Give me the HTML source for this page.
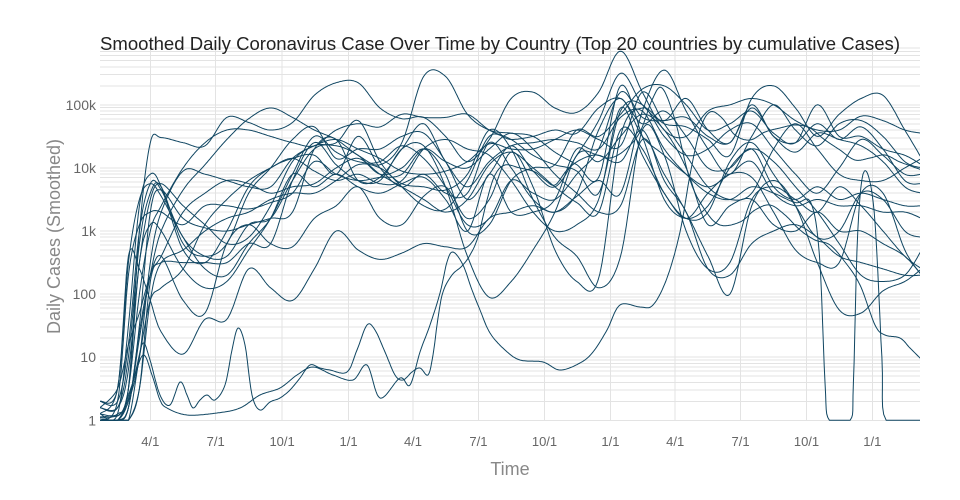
<!DOCTYPE html>
<html><head><meta charset="utf-8">
<style>
html,body{margin:0;padding:0;background:#fff;}
svg{display:block;}
text{font-family:"Liberation Sans",Arial,sans-serif;}
</style></head><body>
<svg id="c" width="960" height="500" viewBox="0 0 960 500" xmlns="http://www.w3.org/2000/svg">
<defs><clipPath id="clip"><rect x="100" y="47" width="820" height="374.5"/></clipPath></defs>
<rect width="960" height="500" fill="#fff"/>
<g id="grid" stroke="#e3e3e3" stroke-width="1" fill="none" shape-rendering="crispEdges"></g>
<g id="lines" clip-path="url(#clip)" fill="none" stroke="#104662" stroke-width="1" stroke-linejoin="round"></g>
<text x="100" y="50" font-size="18" fill="#222" textLength="800" lengthAdjust="spacingAndGlyphs">Smoothed Daily Coronavirus Case Over Time by Country (Top 20 countries by cumulative Cases)</text>
<g font-size="14" fill="#666" text-anchor="end">
<text x="96" y="425.3">1</text>
<text x="96" y="362.2">10</text>
<text x="96" y="299.1">100</text>
<text x="96" y="236">1k</text>
<text x="96" y="172.9">10k</text>
<text x="96" y="109.8">100k</text>
</g>
<g font-size="13" fill="#666" text-anchor="middle">
<text x="150.3" y="446">4/1</text>
<text x="215.7" y="446">7/1</text>
<text x="282.1" y="446">10/1</text>
<text x="348.6" y="446">1/1</text>
<text x="413.0" y="446">4/1</text>
<text x="478.4" y="446">7/1</text>
<text x="544.5" y="446">10/1</text>
<text x="610.4" y="446">1/1</text>
<text x="675.2" y="446">4/1</text>
<text x="740.6" y="446">7/1</text>
<text x="806.5" y="446">10/1</text>
<text x="872.3" y="446">1/1</text>
</g>
<text x="510" y="475" font-size="18" fill="#888" text-anchor="middle">Time</text>
<text transform="translate(60,236.5) rotate(-90)" x="0" y="0" font-size="18" fill="#888" text-anchor="middle">Daily Cases (Smoothed)</text>
</svg>
<script>
(function(){
var NS="http://www.w3.org/2000/svg";
var grid=document.getElementById('grid');
var lines=document.getElementById('lines');
var T=420.3, TOP=47.6;
function X(m){return 150.3+(m-3)*21.87;}
function Y(L){return 420.3-63.1*L;}
var d='';
for(var k=0;k<6;k++){for(var j=1;j<=9;j++){var y=Y(k+Math.log(j)/Math.LN10); if(y<TOP)continue; d+='M100 '+y.toFixed(2)+'H920';}}
var vx=[150.3,215.7,282.1,348.6,413.0,478.4,544.5,610.4,675.2,740.6,806.5,872.3];
for(var i=0;i<vx.length;i++){d+='M'+vx[i]+' '+TOP+'V'+T;}
var gp=document.createElementNS(NS,'path');gp.setAttribute('d',d);grid.appendChild(gp);

var K=[0.7,1.5,2.0,2.5,3.0];for(var m=3.5;m<=37.6;m+=1)K.push(m);K.push(38.27);

var S=[
[0.1,0.1,0.5,3.0,4.4,4.48,4.4,4.35,4.8,4.72,4.6,4.72,5.15,5.35,5.35,4.95,4.78,4.8,4.5,4.1,4.45,5.1,5.2,4.95,4.88,5.2,5.85,5.2,4.6,4.5,4.9,5.0,5.1,5.0,4.75,4.6,4.6,4.82,4.75,4.6,4.55],
[0,0,0.2,1.3,2.3,3.0,3.65,4.05,4.45,4.78,4.95,4.8,4.6,4.45,4.2,4.05,4.4,5.45,5.45,4.85,4.6,4.55,4.5,4.25,4.05,3.85,5.3,4.5,3.5,3.2,3.4,4.0,4.3,4.1,3.7,3.3,2.8,2.3,2.2,2.3,2.7],
[0.2,0.2,1.0,2.8,3.6,3.7,2.8,2.6,2.8,3.6,4.0,4.45,4.65,4.15,4.3,4.3,4.5,4.55,4.1,3.5,3.9,4.35,3.95,3.7,4.2,4.75,5.5,5.0,4.75,5.1,4.6,4.4,5.0,4.5,4.4,4.7,4.45,4.65,4.3,3.8,3.75],
[0.3,0.3,1.2,3.0,3.75,3.65,2.9,2.6,2.6,3.1,3.2,3.8,4.3,4.35,4.2,3.9,4.0,4.3,3.9,3.0,3.1,3.8,4.0,4.05,4.6,4.5,4.85,5.25,5.3,5.0,4.6,4.7,4.9,4.55,4.4,5.0,4.5,4.5,4.3,4.2,4.05],
[0.2,0.2,0.8,2.5,3.5,3.75,3.4,3.1,2.8,2.9,3.4,4.1,4.35,4.4,4.75,4.1,3.7,3.4,3.35,3.8,4.5,4.45,4.5,4.6,4.55,4.95,5.1,4.7,4.9,4.5,4.0,4.0,4.3,3.7,3.5,3.7,3.5,3.6,3.5,3.4,3.4],
[0.1,0.5,2.5,3.5,3.75,3.55,2.9,2.4,2.3,2.8,3.2,3.9,4.5,4.25,4.1,4.1,4.35,4.15,3.7,3.1,3.2,3.8,3.6,3.5,3.9,4.3,5.2,4.8,4.75,4.8,4.5,4.4,4.95,4.5,4.25,4.55,4.45,4.35,4.1,3.7,3.6],
[0.1,0.1,1.5,3.4,3.9,3.7,2.7,2.5,3.0,3.7,4.0,4.15,4.2,3.9,4.5,4.0,3.7,3.9,3.6,3.6,4.4,4.0,3.5,3.3,3.6,4.6,5.1,4.5,4.2,3.9,3.7,3.9,4.1,3.6,3.4,3.5,3.4,3.4,3.3,3.3,3.2],
[0,0,0.5,2.0,3.0,3.4,4.0,4.4,4.6,4.6,4.5,4.4,4.35,4.6,4.7,4.65,4.85,4.8,4.8,4.85,4.6,4.45,4.2,4.05,3.95,3.6,4.9,5.0,4.5,4.2,4.3,4.6,4.7,4.3,3.9,3.6,4.0,4.45,4.2,3.9,3.9],
[0.2,0.5,1.2,1.7,2.3,2.6,1.9,1.7,2.8,3.1,2.8,2.75,3.2,3.4,3.7,3.2,3.1,3.55,3.7,3.2,3.5,4.25,3.7,2.7,2.2,2.25,4.5,4.95,4.7,4.65,4.45,4.2,5.1,5.3,4.95,4.5,4.85,5.1,5.15,4.6,4.15],
[0.3,0.5,2.6,2.4,1.9,1.4,1.05,1.6,1.6,2.4,2.1,1.9,2.4,3.0,2.7,2.55,2.65,2.8,2.75,2.75,3.2,3.3,3.4,3.3,3.55,3.8,3.6,4.9,5.55,4.9,4.3,3.9,4.5,5.0,4.6,4.35,4.7,4.75,4.5,4.1,4.0],
[0,0,0.3,1.0,2.5,3.3,3.95,3.9,3.8,3.7,3.7,4.15,4.35,4.45,4.3,4.15,3.95,3.9,3.95,4.1,4.38,4.3,4.3,4.45,4.6,4.45,4.35,5.2,4.7,4.2,3.7,3.5,3.6,4.3,4.7,4.3,3.9,3.8,3.8,4.0,4.15],
[0,0,0,1.0,1.9,2.1,2.4,3.1,3.5,3.8,4.0,4.15,3.95,3.8,3.9,3.75,3.8,4.3,4.45,4.3,4.2,3.8,3.3,3.0,3.1,3.5,4.95,4.2,3.6,3.2,3.6,3.9,3.85,3.3,2.7,2.5,2.5,3.6,3.6,2.7,2.3],
[0,0,0.5,2.5,3.1,3.0,2.4,2.1,2.2,2.7,3.2,3.9,3.7,3.9,3.7,3.6,3.75,3.85,3.5,3.0,3.9,3.3,3.3,3.5,4.3,4.1,4.5,4.85,4.6,4.0,3.1,3.4,3.5,3.1,3.0,3.3,3.0,3.0,2.8,2.6,2.3],
[0,0.3,2.3,3.1,3.3,3.3,3.1,3.4,3.4,3.35,3.45,3.6,4.1,3.9,3.8,3.85,3.9,4.3,4.1,4.0,4.3,4.55,4.3,3.9,3.6,3.3,3.4,4.45,3.9,3.3,2.6,2.0,3.4,3.8,3.4,2.5,1.75,1.7,2.05,2.2,2.4],
[0,0,0.2,1.4,2.3,2.6,3.3,3.6,3.8,3.75,3.6,3.7,3.75,4.0,4.15,3.9,3.7,3.5,3.3,3.5,4.05,4.25,4.0,3.7,3.45,3.3,4.6,4.3,3.6,3.2,3.3,4.1,4.4,3.9,3.4,2.9,3.0,3.6,3.5,3.0,2.9],
[0,0,0,0.5,1.9,2.5,2.7,3.0,3.2,3.3,3.5,3.6,3.6,3.8,4.05,4.0,3.75,3.7,3.65,3.9,4.6,4.3,3.5,2.9,2.6,2.1,2.6,4.6,4.2,3.0,2.4,2.5,3.5,3.7,3.5,3.3,3.7,3.4,3.0,2.6,2.4],
[0,0,0,0.5,2.2,2.5,2.5,2.5,2.5,2.8,2.8,3.8,4.4,4.05,3.8,3.8,4.3,4.35,3.7,2.6,1.95,2.2,2.7,3.3,4.2,4.2,4.1,4.6,3.8,3.3,2.4,2.3,2.8,3.0,3.1,2.9,2.6,2.5,2.4,2.3,2.3]
];
var all=[];
for(var s=0;s<S.length;s++){var pts=[];for(var i=0;i<S[s].length;i++)pts.push([X(K[i]),Y(S[s][i])]);all.push(pts);}
// Turkey
var tk=[0,0,0.2,1.5,3.3,3.65,3.2,3.05,3.0,3.1,3.2,3.3,4.3,4.45,3.8,3.85,4.3,4.7,4.1,3.7,4.1,4.35,4.4,4.45,4.4,4.3,4.8,4.9,4.3,3.9,3.6,3.5,3.7,3.6,3.45];
var tp=[];for(var i=0;i<tk.length;i++)tp.push([X(K[i]),Y(tk[i])]);
var tail=[[33.2,3.45],[33.6,2.6],[33.85,0.6],[34.05,0],[35.0,0],[35.15,0.6],[35.35,3.0],[35.65,3.95],[36.1,3.3],[36.45,1.0],[36.65,0],[38.27,0]];
for(var i=0;i<tail.length;i++)tp.push([X(tail[i][0]),Y(tail[i][1])]);
all.push(tp);
// Vietnam (pixel coords)
all.push([[100,417],[110,416],[120,414],[128,400],[136,370],[143,343],[150,360],[160,395],[170,405],[180,382],[187,395],[193,408],[200,400],[207,395],[215,400],[225,385],[232,350],[238,328],[245,345],[252,395],[260,410],[270,402],[280,398],[290,390],[300,378],[310,365],[320,368],[330,370],[347,372],[357,350],[367,325],[375,330],[385,352],[395,375],[403,380],[412,372],[420,368],[428,375],[433,355],[438,318],[443,292],[452,275],[462,266],[470,255],[478,237],[487,200],[495,175],[505,165],[520,168],[535,172],[545,180],[555,185],[567,170],[580,160],[595,155],[610,158],[625,150],[640,132],[652,100],[662,88],[675,120],[690,180],[705,210],[720,225],[740,222],[755,210],[770,205],[785,215],[800,230],[815,240],[830,245],[845,262],[860,285],[875,325],[885,335],[900,338],[910,348],[922,360]]);
// Taiwan (pixel coords)
all.push([[100,418],[112,417],[122,412],[132,385],[143,355],[152,375],[160,400],[167,408],[187,415],[217,413],[240,408],[260,395],[280,388],[297,375],[313,367],[333,375],[353,380],[367,365],[380,398],[400,378],[410,385],[420,352],[430,325],[440,293],[447,262],[453,252],[463,265],[472,290],[480,310],[490,333],[505,350],[520,360],[543,362],[560,370],[580,363],[593,352],[607,330],[620,305],[640,307],[653,305],[667,278],[680,232],[690,175],[700,130],[710,112],[722,118],[735,135],[750,140],[765,132],[780,128],[795,125],[810,128],[825,140],[840,150],[855,160],[870,158],[885,155],[900,162],[922,170]]);

function cr(pts){
 var out=[];
 for(var i=0;i<pts.length-1;i++){
  var p0=pts[i>0?i-1:0],p1=pts[i],p2=pts[i+1],p3=pts[i+2<pts.length?i+2:pts.length-1];
  var n=Math.max(6,Math.ceil((p2[0]-p1[0])/1.2));
  for(var s=0;s<n;s++){
   var t=s/n,t2=t*t,t3=t2*t;
   var x=0.5*((2*p1[0])+(-p0[0]+p2[0])*t+(2*p0[0]-5*p1[0]+4*p2[0]-p3[0])*t2+(-p0[0]+3*p1[0]-3*p2[0]+p3[0])*t3);
   var y=0.5*((2*p1[1])+(-p0[1]+p2[1])*t+(2*p0[1]-5*p1[1]+4*p2[1]-p3[1])*t2+(-p0[1]+3*p1[1]-3*p2[1]+p3[1])*t3);
   if(y>T)y=T;
   out.push(x.toFixed(1)+','+y.toFixed(1));
  }
 }
 var l=pts[pts.length-1];out.push(l[0].toFixed(1)+','+Math.min(l[1],T).toFixed(1));
 return out.join(' ');
}
for(var s=0;s<all.length;s++){
 var pl=document.createElementNS(NS,'polyline');
 pl.setAttribute('points',cr(all[s]));
 lines.appendChild(pl);
}
})();
</script>
</body></html>
